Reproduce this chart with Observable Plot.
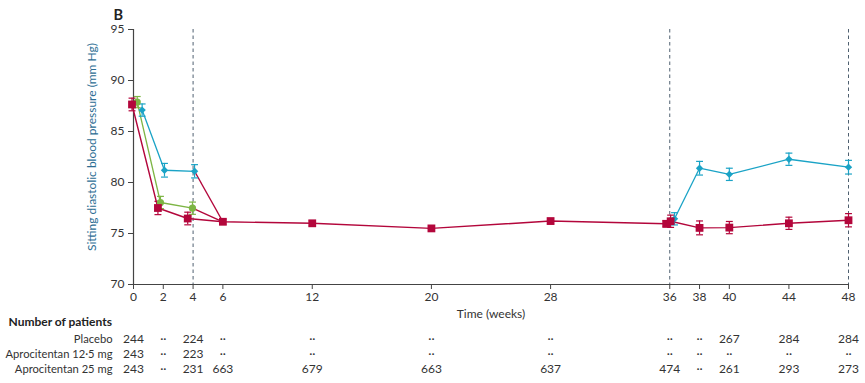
<!DOCTYPE html>
<html>
<head>
<meta charset="utf-8">
<script src="https://cdn.jsdelivr.net/npm/d3@7"></script>
<script src="https://cdn.jsdelivr.net/npm/@observablehq/plot@0.6"></script>
<style>
  html, body { margin: 0; padding: 0; background: #fff; }
  #chart { width: 865px; height: 383px; }
</style>
</head>
<body>
<div id="chart"></div>
<script>
// ---- Tick labels / visit weeks ----
const weeks = [0, 2, 4, 6, 12, 20, 28, 36, 38, 40, 44, 48];
const yTicks = [70, 75, 80, 85, 90, 95];
const phaseLines = [4, 36, 48];

// ---- Aprocitentan 25 mg (weeks 0–36) ----
const ap25X = [-0.1, 1.64, 3.64, 6, 12, 20, 28, 35.76];
const ap25Y = [87.65, 77.5, 76.47, 76.15, 76.0, 75.5, 76.22, 75.95];
const ap25E = [0.62, 0.65, 0.62, 0.25, 0.25, 0.25, 0.25, 0.3];

// ---- Aprocitentan 12.5 mg (weeks 0–4) ----
const ap12X = [0.25, 1.81, 3.96];
const ap12Y = [87.88, 78.04, 77.48];
const ap12E = [0.55, 0.6, 0.6];

// ---- Placebo (weeks 0–4) ----
const plX = [0.58, 2.08, 4.1];
const plY = [87.1, 81.2, 81.1];
const plE = [0.6, 0.67, 0.65];

// ---- Withdrawal: aprocitentan 25 mg (weeks 36–48) ----
const wd25X = [36.06, 38, 40, 44, 48];
const wd25Y = [76.2, 75.55, 75.58, 76.0, 76.3];
const wd25E = [0.6, 0.68, 0.6, 0.6, 0.65];

// ---- Withdrawal: placebo (weeks 36–48) ----
const wdPlX = [36.32, 38, 40, 44, 48];
const wdPlY = [76.44, 81.4, 80.8, 82.28, 81.5];
const wdPlE = [0.6, 0.67, 0.6, 0.6, 0.67];

// ---- Number of patients table ----
const rowLabels = ["Placebo", "Aprocitentan 12\u00b75 mg", "Aprocitentan 25 mg"];
const nPlacebo = ["244", "··", "224", "··", "··", "··", "··", "··", "··", "267", "284", "284"];
const nAp12    = ["243", "··", "223", "··", "··", "··", "··", "··", "··", "··", "··", "··"];
const nAp25    = ["243", "··", "231", "663", "679", "663", "637", "474", "··", "261", "293", "273"];

// ---- Colours ----
const RED = "#b3063b", BLUE = "#1aa3c6", GREEN = "#7db544";

const toPts = (xs, ys, es) => xs.map((x, i) => ({x, y: ys[i], e: es[i]}));
const ap25 = toPts(ap25X, ap25Y, ap25E);
const ap12 = toPts(ap12X, ap12Y, ap12E);
const pl = toPts(plX, plY, plE);
const wd25 = toPts(wd25X, wd25Y, wd25E);
const wdPl = toPts(wdPlX, wdPlY, wdPlE);

// switch-over segments: week-4 placebo / 12.5 mg points to week-6 25 mg point
const week6 = ap25[3];
const switches = [pl[pl.length - 1], ap12[ap12.length - 1]].map(p => ({x1: p.x, y1: p.y, x2: week6.x, y2: week6.y}));

const cap = {draw(ctx, size) { const w = Math.sqrt(size) / 2; ctx.moveTo(-w, 0); ctx.lineTo(w, 0); }};

function errMarks(data, color) {
  return [
    Plot.ruleX(data, {x: "x", y1: d => d.y - d.e, y2: d => d.y + d.e, stroke: color, strokeWidth: 1.2}),
    Plot.dot(data, {x: "x", y: d => d.y + d.e, symbol: cap, r: 3.9, stroke: color, fill: "none", strokeWidth: 1.2}),
    Plot.dot(data, {x: "x", y: d => d.y - d.e, symbol: cap, r: 3.9, stroke: color, fill: "none", strokeWidth: 1.2})
  ];
}

const rows = [nPlacebo, nAp12, nAp25];
const rowDy = [58, 73, 88];
const tableMarks = [];
rows.forEach((vals, i) => {
  tableMarks.push(Plot.text(weeks.map((w, j) => ({w, t: vals[j]})), {
    x: "w", text: "t", frameAnchor: "bottom", dy: rowDy[i], fill: "#333", fontSize: 12
  }));
  tableMarks.push(Plot.text([rowLabels[i]], {
    text: d => d, frameAnchor: "bottom-left", textAnchor: "end", dx: -21, dy: rowDy[i], fill: "#333", fontSize: 11.2
  }));
});

const chart = Plot.plot({
  width: 865,
  height: 383,
  marginLeft: 133,
  marginRight: 17,
  marginTop: 29,
  marginBottom: 99,
  style: {fontFamily: "Lato, 'Open Sans', sans-serif", fontSize: "12px", color: "#333", background: "#fff"},
  x: {domain: [0, 48]},
  y: {domain: [70, 95]},
  marks: [
    Plot.ruleX(phaseLines, {stroke: "#4f6070", strokeDasharray: "3.5,3", strokeWidth: 1}),
    Plot.axisX({ticks: weeks, tickSize: 5, label: null, stroke: "#444", fill: "#333", fontSize: 12, tickPadding: 3}),
    Plot.axisY({ticks: yTicks, tickSize: 5, label: null, stroke: "#444", fill: "#333", fontSize: 12, tickPadding: 4}),
    Plot.ruleY([70], {stroke: "#444", strokeWidth: 1.2}),
    Plot.ruleX([0], {stroke: "#444", strokeWidth: 1.2}),
    // lines
    Plot.line(ap25, {x: "x", y: "y", stroke: RED, strokeWidth: 1.4}),
    Plot.link(switches, {x1: "x1", y1: "y1", x2: "x2", y2: "y2", stroke: RED, strokeWidth: 1.4}),
    Plot.line(ap12, {x: "x", y: "y", stroke: GREEN, strokeWidth: 1.3}),
    Plot.line(pl, {x: "x", y: "y", stroke: BLUE, strokeWidth: 1.3}),
    Plot.line(wd25, {x: "x", y: "y", stroke: RED, strokeWidth: 1.4}),
    Plot.line(wdPl, {x: "x", y: "y", stroke: BLUE, strokeWidth: 1.3}),
    // error bars
    ...errMarks(ap12, GREEN),
    ...errMarks(pl, BLUE),
    ...errMarks(ap25, RED),
    ...errMarks(wd25, RED),
    ...errMarks(wdPl, BLUE),
    // markers
    Plot.dot(ap12, {x: "x", y: "y", r: 3.6, fill: GREEN, symbol: "circle"}),
    Plot.dot(pl, {x: "x", y: "y", r: 3.3, fill: BLUE, symbol: "diamond2"}),
    Plot.dot(wdPl, {x: "x", y: "y", r: 3.3, fill: BLUE, symbol: "diamond2"}),
    Plot.dot(ap25, {x: "x", y: "y", r: 4.4, fill: RED, symbol: "square"}),
    Plot.dot(wd25, {x: "x", y: "y", r: 4.4, fill: RED, symbol: "square"}),
    // texts
    Plot.text(["B"], {frameAnchor: "top-left", text: d => d, textAnchor: "start", dx: -20, dy: -20, fontWeight: "bold", fontSize: 14.5, fill: "#222"}),
    Plot.text(["Sitting diastolic blood pressure (mm Hg)"], {frameAnchor: "left", text: d => d, textAnchor: "middle", rotate: -90, dx: -41, dy: -10, fill: "#2c6d93", fontSize: 12}),
    Plot.text(["Time (weeks)"], {frameAnchor: "bottom", text: d => d, dy: 33, fill: "#333", fontSize: 12}),
    Plot.text(["Number of patients"], {frameAnchor: "bottom-left", text: d => d, textAnchor: "start", dx: -125, dy: 41, fontWeight: "bold", fill: "#222", fontSize: 12}),
    ...tableMarks
  ]
});
document.getElementById("chart").appendChild(chart);
</script>
</body>
</html>
